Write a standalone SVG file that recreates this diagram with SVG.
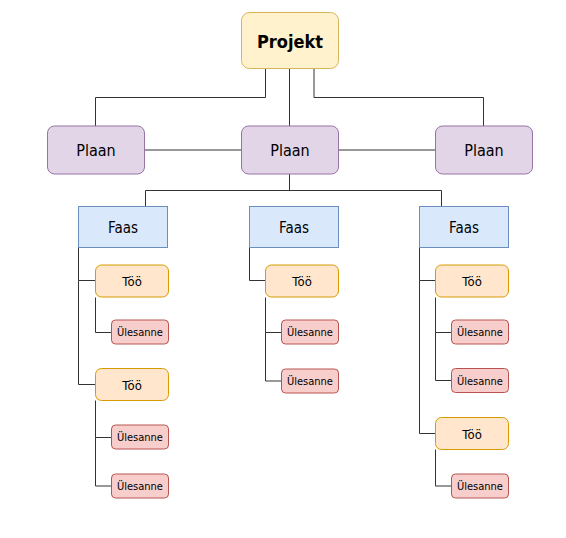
<svg xmlns="http://www.w3.org/2000/svg" width="566" height="538" viewBox="0 0 566 538">
<style>
text{font-family:"DejaVu Sans Condensed","DejaVu Sans",Verdana,sans-serif;font-stretch:condensed;text-anchor:middle;fill:#000}
.proj rect{fill:#fff2cc;stroke:#d6b656}
.plan rect{fill:#e1d5e7;stroke:#9673a6}
.faas rect{fill:#dae8fc;stroke:#6c8ebf}
.too rect{fill:#ffe6cc;stroke:#d79b00}
.ul rect{fill:#f8cecc;stroke:#b85450}
.proj text{font-size:18px;font-weight:bold}
.plan text{font-size:16px}
.faas text{font-size:15px}
.too text{font-size:13px}
.ul text{font-size:11px}
#connectors path{fill:none;stroke:#333;stroke-width:1}
</style>
<rect width="566" height="538" fill="#fff"/>
<g id="connectors">
<path d="M265.5 69V97.5H95.5V126"/>
<path d="M289.5 69V126"/>
<path d="M314 69V97.5H483.5V126"/>
<path d="M144.5 150H241.5"/>
<path d="M338.5 150H435.5"/>
<path d="M289.5 174V190.5"/>
<path d="M145.5 206.5V190.5H441.5V206.5"/>
<path d="M78.5 247.5V280.5H95.5"/>
<path d="M78.5 280.5V384.5H95.5"/>
<path d="M95.5 297.5V332.5H111.5"/>
<path d="M95.5 400.5V437.5H111.5"/>
<path d="M95.5 437.5V486H111.5"/>
<path d="M249.5 247.5V280.5H265.5"/>
<path d="M265.5 297.5V332.5H281.5"/>
<path d="M265.5 332.5V381H281.5"/>
<path d="M419.5 247.5V280.5H435.5"/>
<path d="M419.5 280.5V433.5H435.5"/>
<path d="M435.5 297.5V332.5H451.5"/>
<path d="M435.5 332.5V380.5H451.5"/>
<path d="M435.5 449.5V486H451.5"/>
</g>
<g id="projekt" class="proj"><rect x="241.5" y="12.5" width="97" height="56" rx="8"/><text x="290" y="47.5">Projekt</text></g>
<g id="plaan1" class="plan"><rect x="47.5" y="126" width="97" height="48" rx="7"/><text x="96" y="156">Plaan</text></g>
<g id="plaan2" class="plan"><rect x="241.5" y="126" width="97" height="48" rx="7"/><text x="290" y="156">Plaan</text></g>
<g id="plaan3" class="plan"><rect x="435.5" y="126" width="97" height="48" rx="7"/><text x="484" y="156">Plaan</text></g>
<g id="faas1" class="faas"><rect x="78.5" y="206.5" width="89" height="41"/><text x="123" y="233">Faas</text></g>
<g id="faas2" class="faas"><rect x="249.5" y="206.5" width="89" height="41"/><text x="294" y="233">Faas</text></g>
<g id="faas3" class="faas"><rect x="419.5" y="206.5" width="89" height="41"/><text x="464" y="233">Faas</text></g>
<g id="too1" class="too"><rect x="95.5" y="265" width="73" height="32" rx="6"/><text x="132" y="286">Töö</text></g>
<g id="too2" class="too"><rect x="95.5" y="368.5" width="73" height="32" rx="6"/><text x="132" y="389.5">Töö</text></g>
<g id="too3" class="too"><rect x="265.5" y="265" width="73" height="32" rx="6"/><text x="302" y="286">Töö</text></g>
<g id="too4" class="too"><rect x="435.5" y="265" width="73" height="32" rx="6"/><text x="472" y="286">Töö</text></g>
<g id="too5" class="too"><rect x="435.5" y="417.5" width="73" height="32" rx="6"/><text x="472" y="438.5">Töö</text></g>
<g id="ul1" class="ul"><rect x="111.5" y="320" width="57" height="24" rx="4"/><text x="140" y="336">Ülesanne</text></g>
<g id="ul2" class="ul"><rect x="111.5" y="425" width="57" height="24" rx="4"/><text x="140" y="441">Ülesanne</text></g>
<g id="ul3" class="ul"><rect x="111.5" y="474" width="57" height="24" rx="4"/><text x="140" y="490">Ülesanne</text></g>
<g id="ul4" class="ul"><rect x="281.5" y="320" width="57" height="24" rx="4"/><text x="310" y="336">Ülesanne</text></g>
<g id="ul5" class="ul"><rect x="281.5" y="369" width="57" height="24" rx="4"/><text x="310" y="385">Ülesanne</text></g>
<g id="ul6" class="ul"><rect x="451.5" y="320" width="57" height="24" rx="4"/><text x="480" y="336">Ülesanne</text></g>
<g id="ul7" class="ul"><rect x="451.5" y="368.5" width="57" height="24" rx="4"/><text x="480" y="384.5">Ülesanne</text></g>
<g id="ul8" class="ul"><rect x="451.5" y="474" width="57" height="24" rx="4"/><text x="480" y="490">Ülesanne</text></g>
</svg>
